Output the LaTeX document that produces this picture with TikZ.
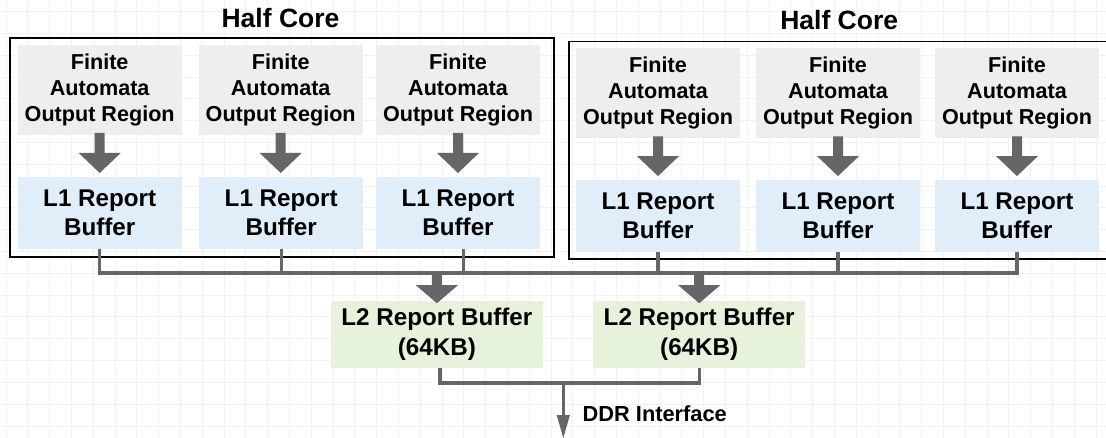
\documentclass[tikz,border=0pt]{standalone}
\usepackage{fontspec}
\setmainfont{Liberation Sans}
\usetikzlibrary{calc}

\definecolor{gridc}{HTML}{F1F1F1}
\definecolor{fagray}{HTML}{EEEEEE}
\definecolor{lonebl}{HTML}{DFEEF9}
\definecolor{ltwogr}{HTML}{E6F2DA}
\definecolor{linkgray}{HTML}{666666}

% thick block arrow: #1 start of the shaft, #2 tip, #3 head length
\newcommand\blockarrow[3]{%
  \fill[linkgray] let \p1=#1, \p2=#2 in
    (\x1-5pt,\y1) -- (\x1+5pt,\y1) -- (\x1+5pt,\y2+#3) -- (\x1+21pt,\y2+#3)
    -- (\x1,\y2) -- (\x1-21pt,\y2+#3) -- (\x1-5pt,\y2+#3) -- cycle;}

\begin{document}
\begin{tikzpicture}[x=1pt,y=-1pt,
  every node/.style={outer sep=0pt, inner sep=0pt, align=center, font=\bfseries},
  fabox/.style={fill=fagray, minimum width=164pt, minimum height=90pt,
    font=\bfseries\fontsize{21.6}{26}\selectfont},
  lonebox/.style={fill=lonebl, minimum width=164pt, minimum height=72pt,
    font=\bfseries\fontsize{24.2}{28.4}\selectfont},
  ltwobox/.style={fill=ltwogr, minimum width=211.7pt, minimum height=66.7pt,
    font=\bfseries\fontsize{24.2}{30}\selectfont},
  corebox/.style={draw=black, line width=1.8pt},
  coretitle/.style={font=\bfseries\fontsize{26.5}{30}\selectfont},
  conn/.style={draw=linkgray, line width=3.3pt},
]
\useasboundingbox (0,0) rectangle (1106,438);
\clip (0,0) rectangle (1106,438);
\fill[white] (0,0) rectangle (1106,438);

% background grid
\foreach \gx in {0,...,50} \draw[gridc, line width=0.8pt] ({5.9+21.8*\gx},0) -- ++(0,438);
\foreach \gy in {0,...,20} \draw[gridc, line width=0.8pt] (0,{11.7+21.8*\gy}) -- ++(1106,0);

% half cores
\draw[corebox] (10,38.3) rectangle (554,257);
\draw[corebox] (569,41.5) rectangle (1114,259);
\node[coretitle] (titleL) at (280.5,18.5) {Half Core};
\node[coretitle] (titleR) at (839.2,20.5) {Half Core};

% left half core
\node[fabox] (faa) at (99.7,90) {Finite\\Automata\\Output Region};
\node[fabox] (fab) at (280.7,90) {Finite\\Automata\\Output Region};
\node[fabox] (fac) at (458,90) {Finite\\Automata\\Output Region};
\node[lonebox] (loa) at (99.7,212.7) {L1 Report\\Buffer};
\node[lonebox] (lob) at (281.2,212.7) {L1 Report\\Buffer};
\node[lonebox] (loc) at (458,212.7) {L1 Report\\Buffer};

% right half core
\node[fabox] (fad) at (658,93.3) {Finite\\Automata\\Output Region};
\node[fabox] (fae) at (838,93.3) {Finite\\Automata\\Output Region};
\node[fabox] (faf) at (1017,93.3) {Finite\\Automata\\Output Region};
\node[lonebox] (lod) at (658,215.8) {L1 Report\\Buffer};
\node[lonebox] (loe) at (838,215.8) {L1 Report\\Buffer};
\node[lonebox] (lof) at (1017,215.8) {L1 Report\\Buffer};

% output region -> L1 buffer
\foreach \a/\b in {faa/loa,fab/lob,fac/loc,fad/lod,fae/loe,faf/lof}
  \blockarrow{($(\a.south)+(0,-2)$)}{($(\b.north)+(0,-3.7)$)}{20pt};

% L2 buffers
\node[ltwobox] (lta) at (436.9,334.3) {L2 Report Buffer\\(64KB)};
\node[ltwobox] (ltb) at (699.2,334.3) {L2 Report Buffer\\(64KB)};

% L1 -> shared bus
\coordinate (bus) at (0,273);
\draw[conn] (loa.south) |- (lof.south |- bus) -- (lof.south);
\draw[conn] (lob.south) -- (lob.south |- bus);
\draw[conn] ($(loc.south)+(5.7,0)$) -- ($(loc.south |- bus)+(5.7,0)$);
\draw[conn] (lod.south) -- (lod.south |- bus);
\draw[conn] (loe.south) -- (loe.south |- bus);

% bus -> L2 buffers
\blockarrow{($(lta.north |- bus)$)}{($(lta.north)+(0,2.3)$)}{18pt}
\blockarrow{($(ltb.north |- bus)$)}{($(ltb.north)+(0,2.3)$)}{18pt}

% L2 buffers -> DDR
\coordinate (ddrj) at (563.3,383);
\coordinate (ddrend) at (563.3,438);
\coordinate (ddrhead) at (563.3,415);
\draw[conn] ($(lta.south)+(3,0)$) |- (ltb.south |- ddrj) -- (ltb.south);
\draw[conn] (ddrj) -- ($(ddrhead)+(0,1)$);
\fill[linkgray] ($(ddrhead)+(-6.6,0)$) -- ($(ddrhead)+(6.6,0)$) -- (ddrend) -- cycle;
\node[anchor=west, font=\bfseries\fontsize{21.8}{26}\selectfont] (ddr) at (582.7,413.5) {DDR Interface};
\end{tikzpicture}
\end{document}
